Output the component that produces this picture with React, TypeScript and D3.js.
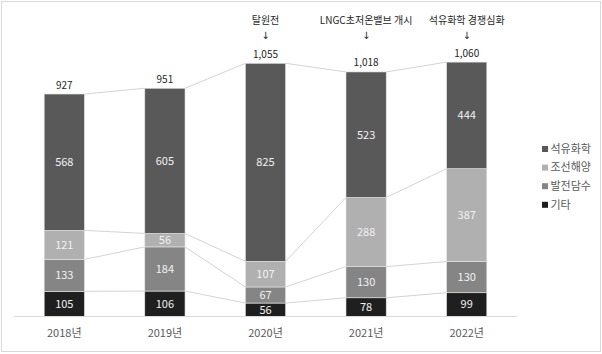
import React, { useEffect, useRef } from 'react'
import * as d3 from 'd3'

const years = ['2018년', '2019년', '2020년', '2021년', '2022년']
const seriesNames = ['기타', '발전담수', '조선해양', '석유화학'] // bottom to top
const gita = [105, 106, 56, 78, 99]
const baljeon = [133, 184, 67, 130, 130]
const joseon = [121, 56, 107, 288, 387]
const seokyu = [568, 605, 825, 523, 444]
const totals = [927, 951, 1055, 1018, 1060]
const notes = ['', '', '탈원전', 'LNGC초저온밸브 개시', '석유화학 경쟁심화']
const legendOrder = ['석유화학', '조선해양', '발전담수', '기타']

const colors: Record<string, string> = {
  석유화학: '#595959',
  조선해양: '#b0b0b0',
  발전담수: '#858585',
  기타: '#1f1f1f',
}

const W = 602
const H = 354
const FONT = '"Noto Sans CJK KR", "Noto Sans", sans-serif'

const App = () => {
  const ref = useRef<SVGSVGElement>(null)

  useEffect(() => {
    const svg = d3.select(ref.current)
    svg.selectAll('*').remove()

    const rows = years.map((y, i) => ({
      year: y,
      기타: gita[i],
      발전담수: baljeon[i],
      조선해양: joseon[i],
      석유화학: seokyu[i],
    }))

    const x = d3.scaleBand().domain(years).range([14, 517]).paddingInner(0.6).paddingOuter(0.3)
    const y = d3.scaleLinear().domain([0, 1200]).range([316.5, 28.5])
    const bw = x.bandwidth()

    const stack = d3.stack<any>().keys(seriesNames)(rows)

    // frame
    svg
      .append('rect')
      .attr('x', 1.5)
      .attr('y', 1.5)
      .attr('width', W - 3)
      .attr('height', H - 4)
      .attr('fill', '#fff')
      .attr('stroke', '#d9d9d9')

    // series lines between bars
    const lines = svg.append('g')
    stack.forEach(layer => {
      for (let i = 0; i < years.length - 1; i++) {
        lines
          .append('line')
          .attr('x1', x(years[i])! + bw)
          .attr('y1', y(layer[i][1]))
          .attr('x2', x(years[i + 1])!)
          .attr('y2', y(layer[i + 1][1]))
          .attr('stroke', '#c8c8c8')
          .attr('stroke-width', 0.8)
      }
    })

    // bars
    const layers = svg
      .append('g')
      .selectAll('g')
      .data(stack)
      .enter()
      .append('g')
      .attr('fill', d => colors[d.key])

    layers
      .selectAll('rect')
      .data(d => d)
      .enter()
      .append('rect')
      .attr('x', (d: any) => x(d.data.year)!)
      .attr('y', d => y(d[1]))
      .attr('width', bw)
      .attr('height', d => y(d[0]) - y(d[1]))
      .attr('stroke', '#e6e6e6')
      .attr('stroke-width', 0.6)

    // segment values
    layers
      .selectAll('text')
      .data(d => d)
      .enter()
      .append('text')
      .text(d => d3.format(',')(d[1] - d[0]))
      .attr('x', (d: any) => x(d.data.year)! + bw / 2)
      .attr('y', d => (y(d[0]) + y(d[1])) / 2)
      .attr('dy', '0.35em')
      .attr('text-anchor', 'middle')
      .attr('font-size', '11px')
      .attr('font-family', FONT)
      .attr('fill', '#f2f2f2')

    // axis line
    svg
      .append('line')
      .attr('x1', 14)
      .attr('x2', 517)
      .attr('y1', 316.5)
      .attr('y2', 316.5)
      .attr('stroke', '#d9d9d9')
      .attr('stroke-width', 1)

    // x labels
    svg
      .append('g')
      .selectAll('text')
      .data(years)
      .enter()
      .append('text')
      .text(d => d)
      .attr('x', d => x(d)! + bw / 2)
      .attr('y', 333)
      .attr('dy', '0.35em')
      .attr('text-anchor', 'middle')
      .attr('font-size', '11px')
      .attr('font-family', FONT)
      .attr('fill', '#595959')

    // totals
    const top = stack[stack.length - 1]
    svg
      .append('g')
      .selectAll('text')
      .data(totals)
      .enter()
      .append('text')
      .text(d => d3.format(',')(d))
      .attr('x', (d, i) => x(years[i])! + bw / 2)
      .attr('y', (d, i) => y(top[i][1]) - 9)
      .attr('dy', '0.35em')
      .attr('text-anchor', 'middle')
      .attr('font-size', '10px')
      .attr('font-family', FONT)
      .attr('fill', '#262626')

    // annotations
    const ann = svg.append('g')
    notes.forEach((n, i) => {
      if (!n) return
      const cx = x(years[i])! + bw / 2
      ann
        .append('text')
        .text(n)
        .attr('x', cx)
        .attr('y', 20)
        .attr('dy', '0.35em')
        .attr('text-anchor', 'middle')
        .attr('font-size', '10px')
        .attr('font-family', FONT)
        .attr('fill', '#262626')
      ann
        .append('text')
        .text('↓')
        .attr('x', cx)
        .attr('y', 35)
        .attr('dy', '0.35em')
        .attr('text-anchor', 'middle')
        .attr('font-size', '10px')
        .attr('font-family', '"DejaVu Sans", sans-serif')
        .attr('fill', '#262626')
    })

    // legend
    const legend = svg
      .append('g')
      .selectAll('g')
      .data(legendOrder)
      .enter()
      .append('g')
      .attr('transform', (d, i) => `translate(542, ${149 + i * 18.6})`)
    legend
      .append('rect')
      .attr('x', 0)
      .attr('y', -3)
      .attr('width', 6)
      .attr('height', 6)
      .attr('fill', d => colors[d])
    legend
      .append('text')
      .text(d => d)
      .attr('x', 8.5)
      .attr('y', 0)
      .attr('dy', '0.35em')
      .attr('font-size', '11px')
      .attr('font-family', FONT)
      .attr('fill', '#595959')
  }, [])

  return (
    <svg
      ref={ref}
      width={W}
      height={H}
      style={{ position: 'absolute', left: 0, top: 0 }}
    />
  )
}

export default App
